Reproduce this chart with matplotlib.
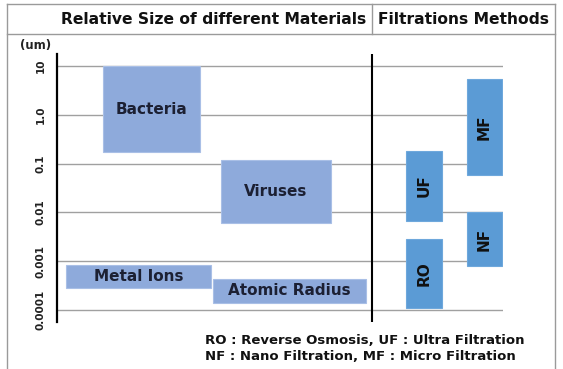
import numpy as np
import matplotlib.pyplot as plt
from matplotlib.lines import Line2D

plt.rcParams['font.family'] = ['DejaVu Sans']
plt.rcParams['font.weight'] = 'bold'

# data (um)
materials = ['Bacteria', 'Viruses', 'Metal Ions', 'Atomic Radius']
mat_low = [0.17, 0.006, 0.00028, 0.00014]
mat_high = [10, 0.12, 0.00084, 0.00043]

methods = ['MF', 'UF', 'NF', 'RO']
meth_low = [0.058, 0.0067, 0.0008, 0.00011]
meth_high = [5.4, 0.18, 0.01, 0.0028]

ticks = [0.0001, 0.001, 0.01, 0.1, 1, 10]
tick_labels = ['0.0001', '0.001', '0.01', '0.1', '1.0', '10']

# layout (x spans in pixel-like units of the axes)
mat_x = [(103, 200), (221, 331), (66, 211), (213, 366)]
meth_x = [(467, 502), (406, 442), (467, 502), (406, 442)]

W, H = 563, 369
fig = plt.figure(figsize=(W / 100, H / 100), dpi=100)
ax = fig.add_axes([57 / W, (H - 322) / H, (503 - 57) / W, 268 / H])
ax.set_yscale('log')
ax.set_xlim(57, 503)
ax.set_ylim(10 ** -4.246, 10 ** 1.246)

for t in ticks:
    ax.axhline(t, color='#a0a0a0', lw=1.0, zorder=0)
ax.axvline(372, color='black', lw=1.5, zorder=1)

for name, lo, hi, (x0, x1) in zip(materials, mat_low, mat_high, mat_x):
    ax.bar((x0 + x1) / 2, hi - lo, bottom=lo, width=x1 - x0,
           color='#8eaadb', edgecolor='#a9bfe6', lw=0.8, zorder=2)
    ax.text((x0 + x1) / 2, np.sqrt(lo * hi), name, ha='center', va='center',
            fontsize=11, fontweight='bold', color='#1c2033', zorder=3)

for name, lo, hi, (x0, x1) in zip(methods, meth_low, meth_high, meth_x):
    ax.bar((x0 + x1) / 2, hi - lo, bottom=lo, width=x1 - x0,
           color='#5b9bd5', edgecolor='#6ea8dc', lw=0.8, zorder=2)
    ax.text((x0 + x1) / 2, np.sqrt(lo * hi), name, ha='center', va='center',
            rotation=90, fontsize=11, fontweight='bold', color='#111111', zorder=3)

ax.set_yticks(ticks)
ax.set_yticklabels(tick_labels, rotation=90, va='center', fontsize=7.5,
                   fontweight='bold', color='#222222')
ax.minorticks_off()
ax.tick_params(axis='y', length=0, pad=8)
ax.set_xticks([])
for s in ['top', 'right', 'bottom']:
    ax.spines[s].set_visible(False)
ax.spines['left'].set_linewidth(1.6)

# header frame
def fline(x, y, **kw):
    fig.add_artist(Line2D([v / W for v in x], [1 - v / H for v in y],
                          color='#9a9a9a', lw=1.0, **kw))

fline([7, 555], [4, 4])
fline([7, 555], [34, 34])
fline([7, 7], [4, 369])
fline([555, 555], [4, 369])
fline([372, 372], [4, 34])

fig.text(366 / W, 1 - 20 / H, 'Relative Size of different Materials',
         ha='right', va='center', fontsize=11.2, fontweight='bold', color='#111111')
fig.text(378 / W, 1 - 20 / H, 'Filtrations Methods',
         ha='left', va='center', fontsize=11.2, fontweight='bold', color='#111111')
fig.text(20 / W, 1 - 45 / H, '(um)', ha='left', va='center',
         fontsize=8.5, fontweight='bold', color='#222222')
fig.text(205 / W, 1 - 340 / H, 'RO : Reverse Osmosis, UF : Ultra Filtration',
         ha='left', va='center', fontsize=9.5, fontweight='bold', color='#111111')
fig.text(205 / W, 1 - 357 / H, 'NF : Nano Filtration, MF : Micro Filtration',
         ha='left', va='center', fontsize=9.5, fontweight='bold', color='#111111')

fig.savefig('out.png', dpi=100)
